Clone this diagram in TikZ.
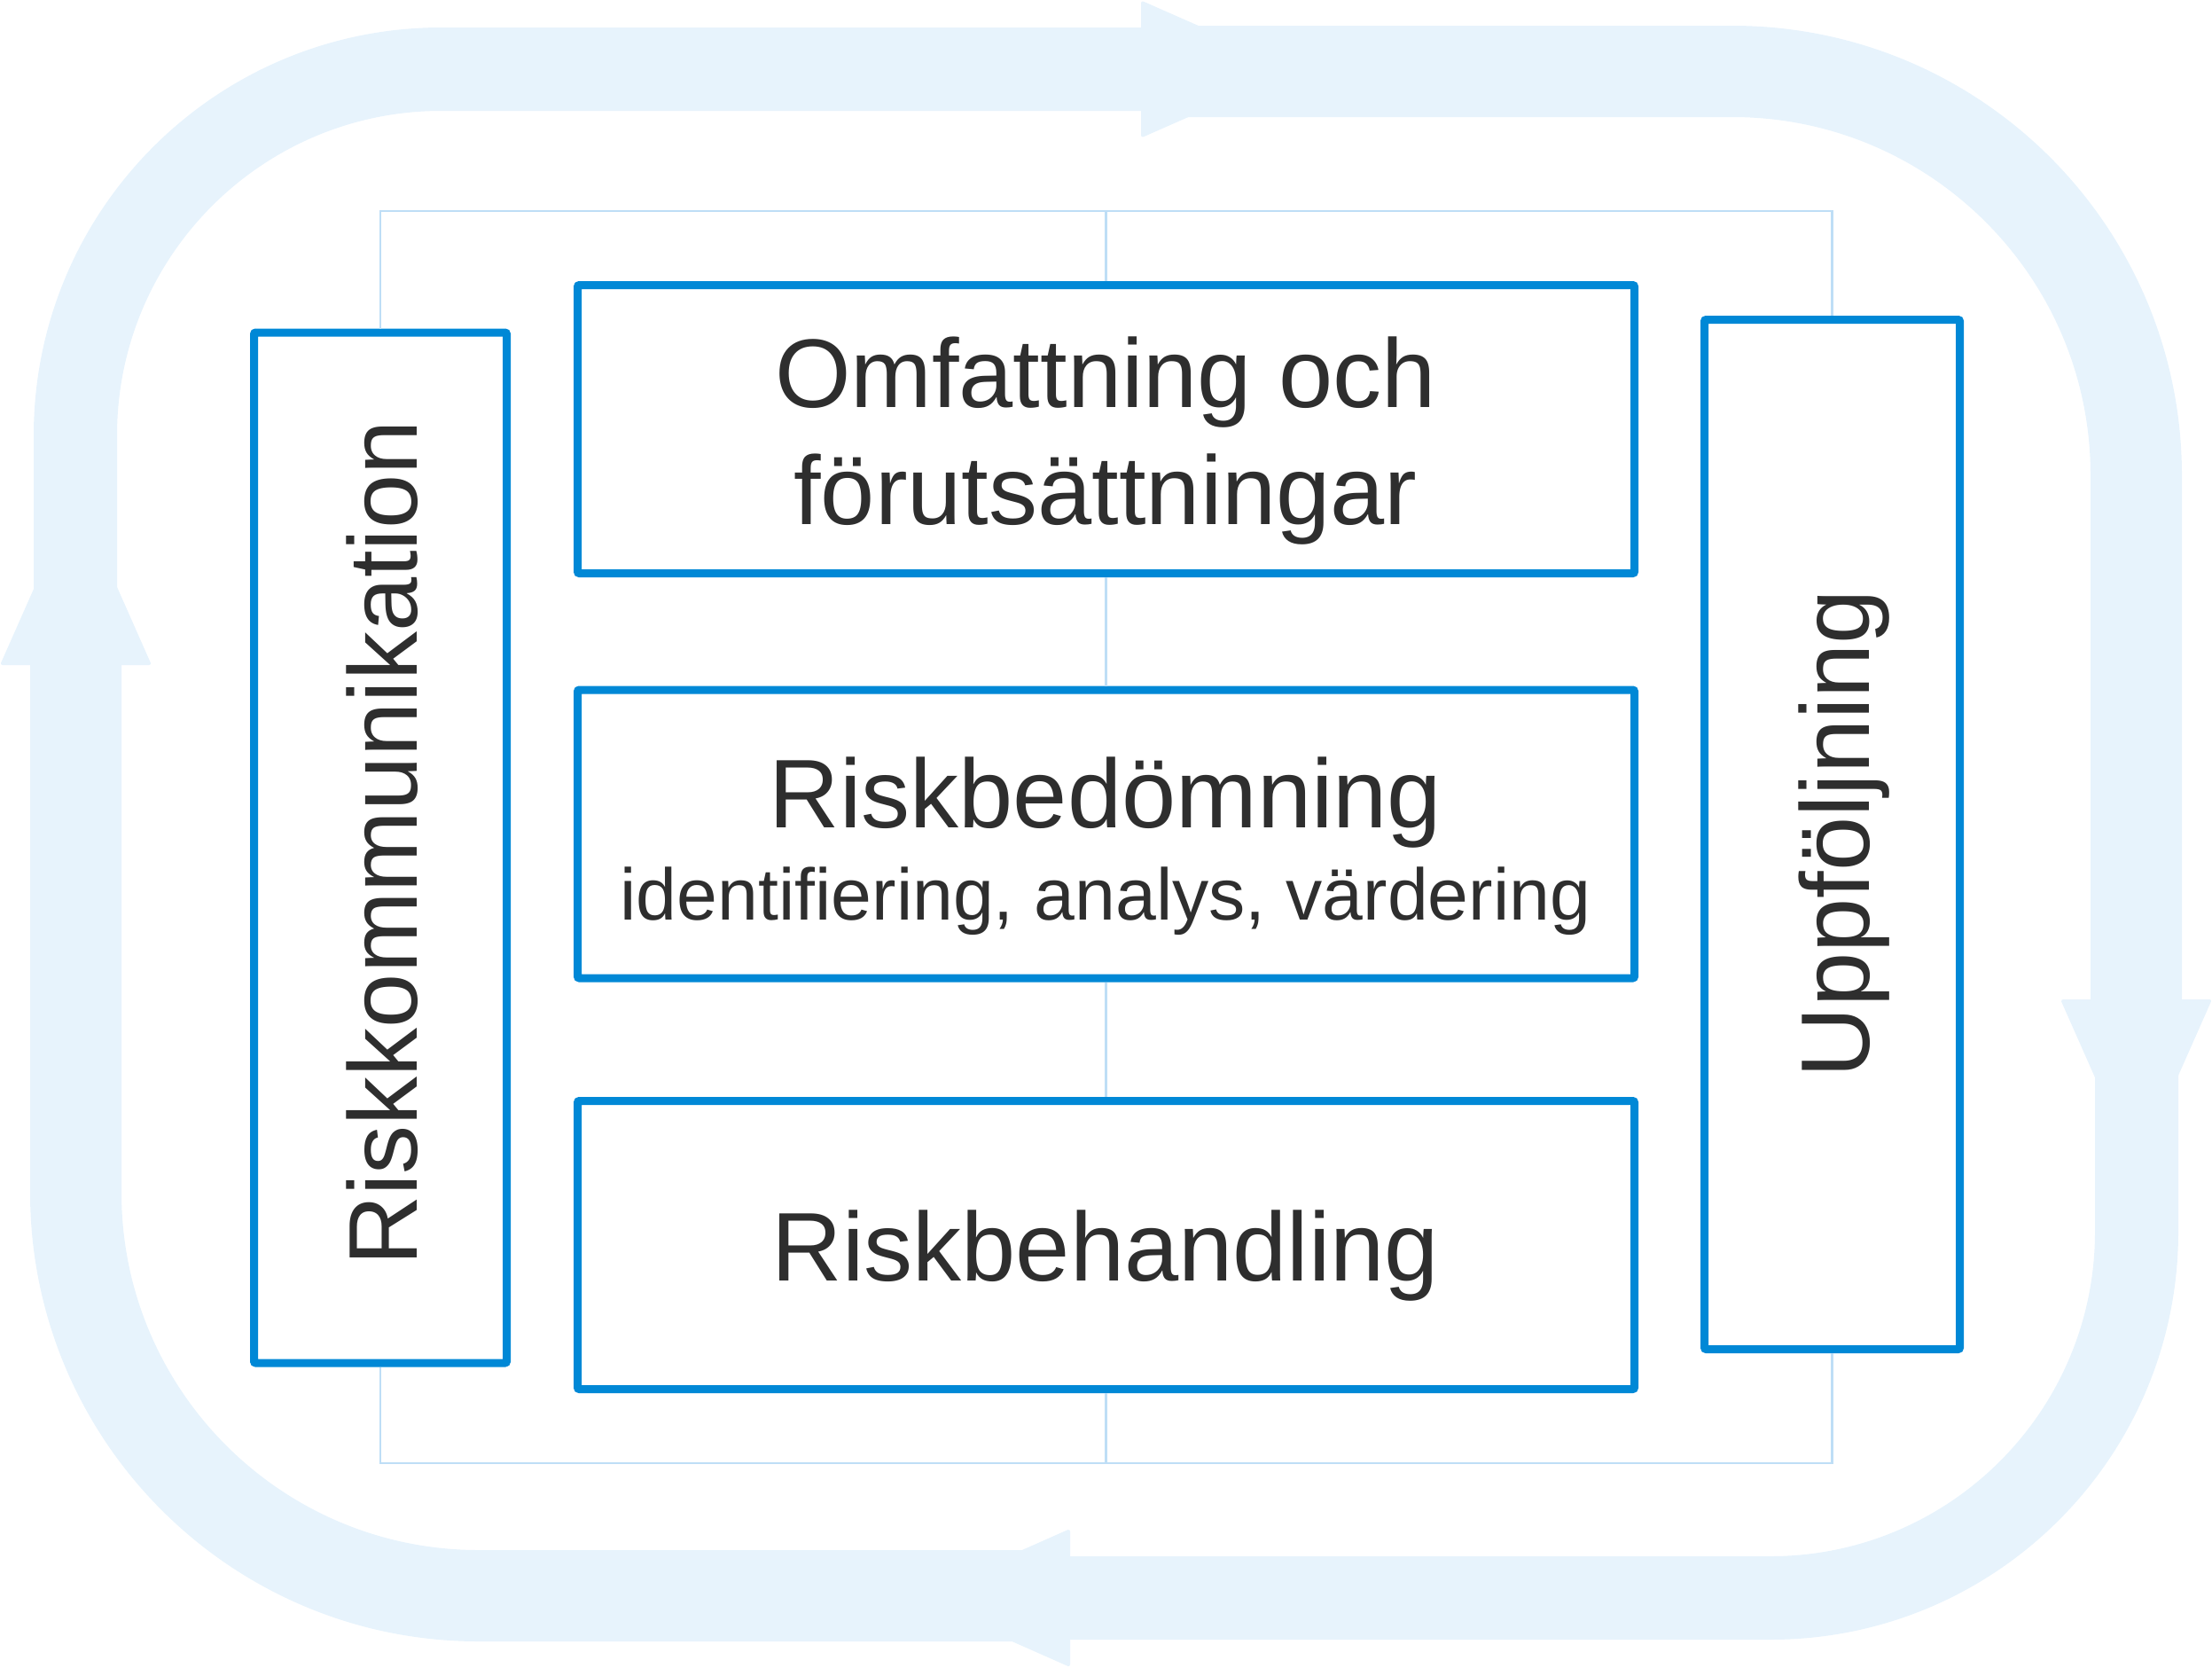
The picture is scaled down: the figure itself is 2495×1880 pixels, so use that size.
\documentclass[tikz,border=0pt]{standalone}
\usepackage{fontspec}
\setmainfont{Liberation Sans}
\definecolor{ring}{HTML}{E7F3FC}
\definecolor{boxblue}{HTML}{0088D6}
\definecolor{thinblue}{HTML}{BEDEF6}
\definecolor{txt}{HTML}{2E2E2E}
\tikzset{
  ringband/.style={draw=ring, line width=#1pt},
  arrowtip/.style={fill=ring, rounded corners=3pt},
  procbox/.style={draw=boxblue, fill=white, line width=9pt, rectangle, inner sep=0pt, rounded corners=2pt},
  bus/.style={draw=thinblue, line width=2.8pt},
  bigtext/.style={text=txt, font=\fontsize{110}{132}\selectfont, inner sep=0pt},
  smalltext/.style={text=txt, font=\fontsize{82.4}{100}\selectfont, inner sep=0pt}
}
\begin{document}
\begin{tikzpicture}[x=1pt, y=-1pt]
\useasboundingbox (0,0) rectangle (2495,1880);
% ring segments
\draw[ringband=94] (85,748) -- (85,491) .. controls (85,262.9) and (269.9,78) .. (498,78) -- (1287,78);
\fill[arrowtip] (1287,0.5) -- (1287,155.5) -- (1463,78) -- cycle;
\draw[ringband=103] (1290,80.5) -- (1954,80.5) .. controls (2205.6,80.5) and (2409.5,284.4) .. (2409.5,536) -- (2409.5,1127);
\fill[arrowtip] (2324,1127) -- (2495,1127) -- (2409.5,1320) -- cycle;
\draw[ringband=94] (2410,1130) -- (2410,1389) .. controls (2410,1617.1) and (2225.1,1802) .. (1997,1802) -- (1207,1802);
\fill[arrowtip] (1207,1724) -- (1207,1880) -- (1031,1802) -- cycle;
\draw[ringband=103] (1204,1799.5) -- (540,1799.5) .. controls (289,1799.5) and (85.5,1596) .. (85.5,1345) -- (85.5,750);
\fill[arrowtip] (0,750) -- (171,750) -- (85.5,557) -- cycle;
% boxes
\node[procbox, minimum width=285pt, minimum height=1162pt] (komm) at (429,956) {};
\node[procbox, minimum width=1192pt, minimum height=325pt] (omf) at (1247.5,484) {};
\node[procbox, minimum width=1192pt, minimum height=325pt] (bed) at (1247.5,940.5) {};
\node[procbox, minimum width=1192pt, minimum height=325pt] (beh) at (1247.5,1404) {};
\node[procbox, minimum width=288pt, minimum height=1161pt] (upp) at (2066.5,941) {};
% connectors
\coordinate (busT) at (0,238);
\coordinate (busB) at (0,1650);
\draw[bus] (komm.north) -- (komm.north |- busT) -- (upp.north |- busT) -- (upp.north);
\draw[bus] (omf.north) -- (omf.north |- busT);
\draw[bus] (omf.south) -- (bed.north);
\draw[bus] (bed.south) -- (beh.north);
\draw[bus] (komm.south) -- (komm.south |- busB) -- (upp.south |- busB) -- (upp.south);
\draw[bus] (beh.south) -- (beh.south |- busB);
% texts
\node[bigtext, anchor=base] (omf1) at (1247,459) {Omfattning och};
\node[bigtext, anchor=base] (omf2) at (1247,591) {förutsättningar};
\node[bigtext, anchor=base] (bed1) at (1247,933) {Riskbedömning};
\node[smalltext, anchor=base] (bed2) at (1247,1037) {identifiering, analys, värdering};
\node[bigtext, anchor=base] (beh1) at (1247,1444) {Riskbehandling};
\node[bigtext, anchor=base, rotate=90] (komm1) at (470,951) {Riskkommunikation};
\node[bigtext, anchor=base, rotate=90] (upp1) at (2108,940) {Uppföljning};
\end{tikzpicture}
\end{document}
